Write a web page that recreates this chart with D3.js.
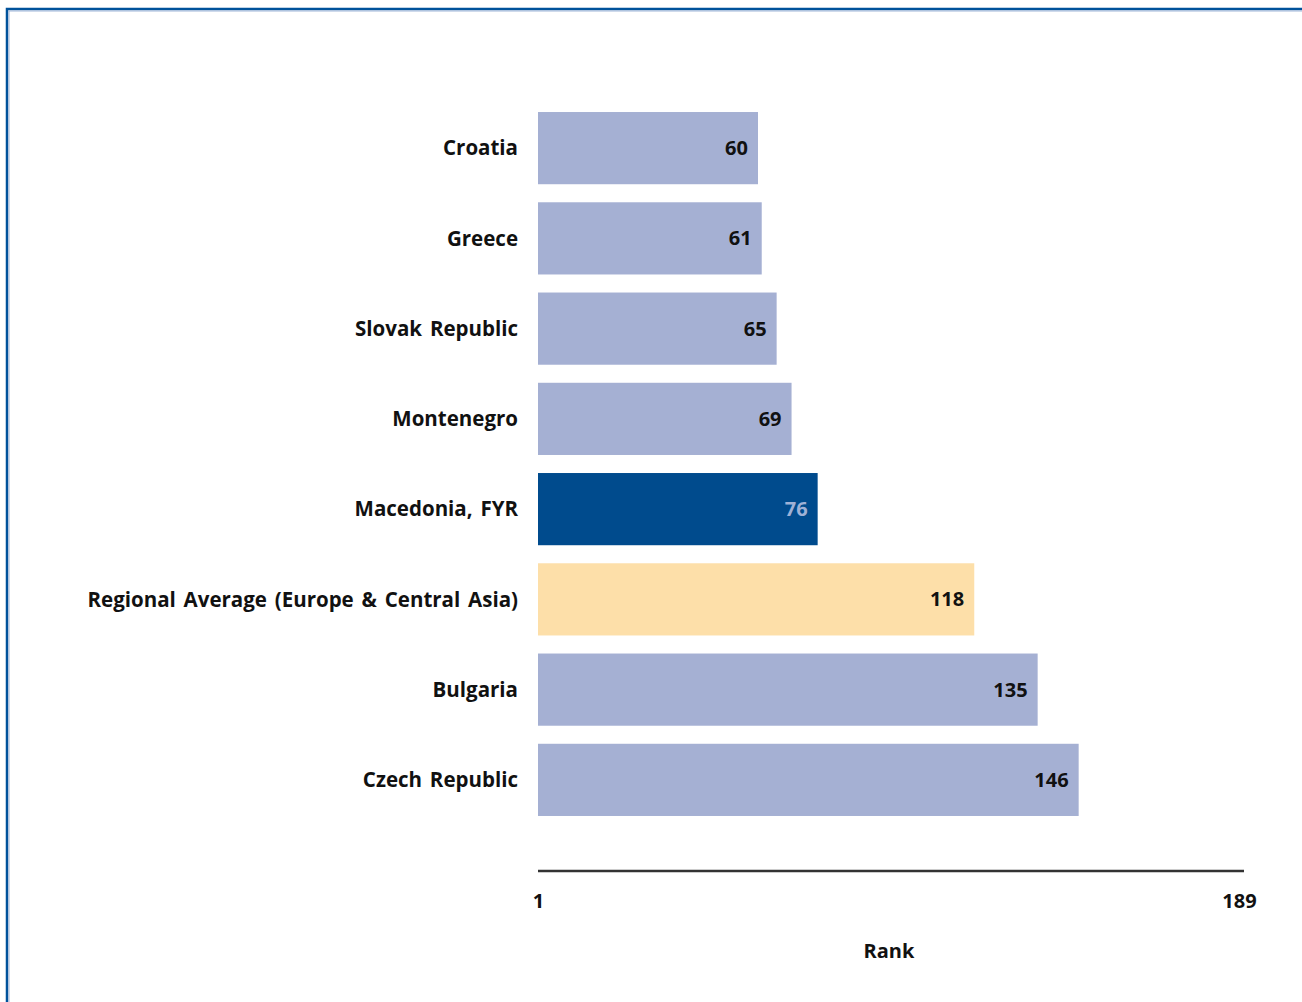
<!DOCTYPE html>
<html>
<head>
<meta charset="utf-8">
<script src="https://cdn.jsdelivr.net/npm/d3@7"></script>
<style>
  body { margin: 0; background: #fff; }
  svg text { font-family: "Open Sans", "DejaVu Sans", sans-serif; font-weight: 700; }
</style>
</head>
<body>
<svg id="chart" width="1302" height="1002"></svg>
<script>
// data
var countries = ["Croatia", "Greece", "Slovak Republic", "Montenegro", "Macedonia, FYR",
                 "Regional Average (Europe & Central Asia)", "Bulgaria", "Czech Republic"];
var ranks = [60, 61, 65, 69, 76, 118, 135, 146];
var tickLabels = [1, 189];

var svg = d3.select("#chart");

// frame
svg.append("rect").attr("x", 7).attr("y", 9).attr("width", 1310).attr("height", 1010)
    .attr("fill", "none").attr("stroke", "#00529b").attr("stroke-width", 2.5);
svg.append("rect").attr("x", 9).attr("y", 11).attr("width", 1310).attr("height", 1010)
    .attr("fill", "none").attr("stroke", "#9fb6d8").attr("stroke-width", 1);

var x = d3.scaleLinear().domain([1, 189]).range([538, 1239]);
var y = d3.scaleBand().domain(countries).range([103, 825]).paddingInner(0.2).paddingOuter(0.1);

var colorFor = function(name){
    if (name == "Macedonia, FYR") return "#004b8d";
    if (name.indexOf("Regional") == 0) return "#fddfa9";
    return "#a5b0d3";
};

var rows = svg.selectAll(".row").data(countries).enter().append("g").attr("class", "row");

rows.append("rect")
    .attr("x", x(1))
    .attr("y", function(d){ return y(d); })
    .attr("width", function(d, i){ return x(ranks[i]) - x(1); })
    .attr("height", y.bandwidth())
    .attr("fill", colorFor);

rows.append("text")
    .attr("x", function(d, i){ return x(ranks[i]) - 10; })
    .attr("y", function(d){ return y(d) + y.bandwidth() / 2; })
    .attr("dy", "0.35em")
    .attr("text-anchor", "end")
    .attr("font-size", 20)
    .attr("fill", function(d){ return d == "Macedonia, FYR" ? "#9fb1d6" : "#111"; })
    .text(function(d, i){ return ranks[i]; });

rows.append("text")
    .attr("x", 518)
    .attr("y", function(d){ return y(d) + y.bandwidth() / 2; })
    .attr("dy", "0.35em")
    .attr("text-anchor", "end")
    .attr("font-size", 20.5)
    .attr("word-spacing", 2.5)
    .attr("fill", "#111")
    .text(function(d){ return d; });

// axis
var axis = d3.axisBottom(x).tickValues(tickLabels).tickSize(0).tickPadding(23);
var g = svg.append("g").attr("transform", "translate(0,871)").call(axis);
g.select(".domain").attr("stroke", "#333").attr("stroke-width", 2.5).attr("d", "M538,0H1244");
g.selectAll("text").attr("font-size", 20).attr("fill", "#111")
    .attr("font-family", "'Open Sans', 'DejaVu Sans', sans-serif").attr("font-weight", 700);

svg.append("text").attr("x", 889).attr("y", 958).attr("text-anchor", "middle")
    .attr("font-size", 20).attr("fill", "#111").text("Rank");
</script>
</body>
</html>
